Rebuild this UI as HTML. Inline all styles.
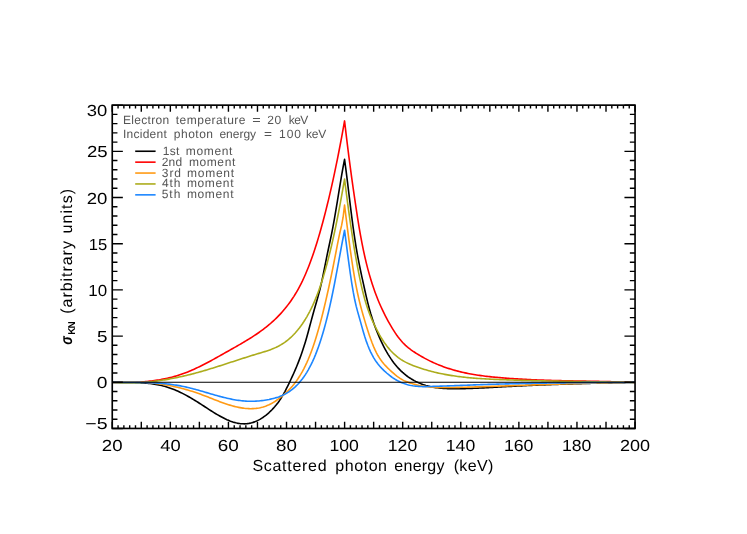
<!DOCTYPE html>
<html><head><meta charset="utf-8"><title>plot</title>
<style>html,body{margin:0;padding:0;background:#fff;width:747px;height:534px;overflow:hidden;font-family:"Liberation Sans",sans-serif}</style>
</head><body>
<svg width="747" height="534" viewBox="0 0 747 534" style="position:absolute;left:0;top:0;display:block;will-change:transform;text-rendering:geometricPrecision">
<rect width="747" height="534" fill="#fff"/>
<g fill="none" stroke-width="1.6" stroke-linejoin="round" stroke-linecap="butt">
<path d="M112.30,382.41 L113.75,382.44 L115.20,382.45 L116.65,382.46 L118.11,382.47 L119.56,382.47 L121.01,382.47 L122.46,382.48 L123.91,382.48 L125.36,382.48 L126.82,382.48 L128.27,382.49 L129.72,382.50 L131.17,382.52 L132.62,382.54 L134.07,382.56 L135.53,382.60 L136.98,382.64 L138.43,382.70 L139.88,382.76 L141.33,382.83 L142.78,382.92 L144.24,383.02 L145.69,383.13 L147.14,383.26 L148.59,383.41 L150.04,383.57 L151.49,383.75 L152.95,383.95 L154.40,384.17 L155.85,384.40 L157.30,384.66 L158.75,384.95 L160.20,385.25 L161.66,385.59 L163.11,385.94 L164.56,386.32 L166.01,386.73 L167.46,387.17 L168.91,387.64 L170.37,388.14 L171.82,388.66 L173.27,389.22 L174.72,389.81 L176.17,390.42 L177.62,391.06 L179.08,391.73 L180.53,392.42 L181.98,393.14 L183.43,393.88 L184.88,394.64 L186.33,395.42 L187.79,396.22 L189.24,397.04 L190.69,397.88 L192.14,398.73 L193.59,399.60 L195.04,400.49 L196.50,401.38 L197.95,402.29 L199.40,403.22 L200.85,404.15 L202.30,405.09 L203.75,406.03 L205.21,406.98 L206.66,407.93 L208.11,408.87 L209.56,409.81 L211.01,410.74 L212.46,411.66 L213.92,412.57 L215.37,413.46 L216.82,414.33 L218.27,415.18 L219.72,416.01 L221.17,416.81 L222.63,417.58 L224.08,418.31 L225.53,419.02 L226.98,419.69 L228.43,420.31 L229.88,420.90 L231.34,421.44 L232.79,421.93 L234.24,422.37 L235.69,422.76 L237.14,423.09 L238.59,423.37 L240.05,423.58 L241.50,423.73 L242.95,423.81 L244.40,423.83 L245.85,423.77 L247.30,423.64 L248.76,423.44 L250.21,423.16 L251.66,422.80 L253.11,422.37 L254.56,421.87 L256.01,421.29 L257.47,420.63 L258.92,419.89 L260.37,419.08 L261.82,418.19 L263.27,417.22 L264.72,416.16 L266.17,415.03 L267.63,413.82 L269.08,412.53 L270.53,411.16 L271.98,409.70 L273.43,408.16 L274.88,406.52 L276.34,404.78 L277.79,402.91 L279.24,400.91 L280.69,398.75 L282.14,396.44 L283.59,393.95 L285.05,391.28 L286.50,388.47 L287.95,385.55 L289.40,382.56 L290.85,379.52 L292.30,376.41 L293.76,373.22 L295.21,369.92 L296.66,366.50 L298.11,362.91 L299.56,359.15 L301.01,355.20 L302.47,351.01 L303.92,346.59 L305.37,341.89 L306.82,336.91 L308.27,331.69 L309.72,326.31 L311.18,320.88 L312.63,315.49 L314.08,310.24 L315.53,305.18 L316.98,300.20 L318.43,295.06 L319.89,289.53 L321.34,283.41 L322.79,276.67 L324.24,269.51 L325.69,262.19 L327.14,254.94 L328.60,247.99 L330.05,241.28 L331.50,234.41 L332.95,226.96 L334.40,218.89 L335.85,210.38 L337.31,201.58 L338.76,192.67 L340.21,183.83 L341.66,175.21 L343.11,166.99 L344.56,159.34 L344.56,159.34 L346.02,170.33 L347.47,181.94 L348.92,193.87 L350.37,205.79 L351.82,217.41 L353.27,228.39 L354.73,238.44 L356.18,247.52 L357.63,255.79 L359.08,263.40 L360.53,270.53 L361.98,277.32 L363.44,283.94 L364.89,290.51 L366.34,296.92 L367.79,302.93 L369.24,308.47 L370.69,313.58 L372.15,318.30 L373.60,322.66 L375.05,326.72 L376.50,330.50 L377.95,334.05 L379.40,337.41 L380.86,340.61 L382.31,343.65 L383.76,346.54 L385.21,349.28 L386.66,351.88 L388.11,354.34 L389.57,356.67 L391.02,358.87 L392.47,360.95 L393.92,362.91 L395.37,364.75 L396.82,366.49 L398.28,368.12 L399.73,369.66 L401.18,371.10 L402.63,372.45 L404.08,373.71 L405.53,374.90 L406.98,376.01 L408.44,377.05 L409.89,378.03 L411.34,378.94 L412.79,379.80 L414.24,380.61 L415.69,381.37 L417.15,382.08 L418.60,382.74 L420.05,383.36 L421.50,383.94 L422.95,384.47 L424.40,384.96 L425.86,385.42 L427.31,385.83 L428.76,386.21 L430.21,386.56 L431.66,386.87 L433.11,387.16 L434.57,387.41 L436.02,387.63 L437.47,387.83 L438.92,388.01 L440.37,388.16 L441.82,388.29 L443.28,388.40 L444.73,388.49 L446.18,388.56 L447.63,388.62 L449.08,388.67 L450.53,388.70 L451.99,388.72 L453.44,388.73 L454.89,388.74 L456.34,388.73 L457.79,388.73 L459.24,388.71 L460.70,388.70 L462.15,388.67 L463.60,388.64 L465.05,388.61 L466.50,388.57 L467.95,388.53 L469.41,388.48 L470.86,388.43 L472.31,388.38 L473.76,388.32 L475.21,388.26 L476.66,388.20 L478.12,388.13 L479.57,388.07 L481.02,388.00 L482.47,387.92 L483.92,387.85 L485.37,387.77 L486.83,387.69 L488.28,387.61 L489.73,387.53 L491.18,387.45 L492.63,387.37 L494.08,387.29 L495.54,387.21 L496.99,387.12 L498.44,387.04 L499.89,386.96 L501.34,386.88 L502.79,386.80 L504.25,386.72 L505.70,386.65 L507.15,386.57 L508.60,386.49 L510.05,386.42 L511.50,386.34 L512.96,386.27 L514.41,386.19 L515.86,386.12 L517.31,386.05 L518.76,385.98 L520.21,385.91 L521.67,385.84 L523.12,385.77 L524.57,385.70 L526.02,385.63 L527.47,385.57 L528.92,385.50 L530.38,385.44 L531.83,385.37 L533.28,385.31 L534.73,385.25 L536.18,385.18 L537.63,385.12 L539.09,385.06 L540.54,385.00 L541.99,384.94 L543.44,384.88 L544.89,384.83 L546.34,384.77 L547.79,384.71 L549.25,384.66 L550.70,384.60 L552.15,384.55 L553.60,384.49 L555.05,384.44 L556.50,384.39 L557.96,384.33 L559.41,384.28 L560.86,384.23 L562.31,384.18 L563.76,384.13 L565.21,384.08 L566.67,384.04 L568.12,383.99 L569.57,383.94 L571.02,383.90 L572.47,383.85 L573.92,383.81 L575.38,383.76 L576.83,383.72 L578.28,383.67 L579.73,383.63 L581.18,383.59 L582.63,383.55 L584.09,383.51 L585.54,383.47 L586.99,383.43 L588.44,383.39 L589.89,383.35 L591.34,383.31 L592.80,383.27 L594.25,383.24 L595.70,383.20 L597.15,383.17 L598.60,383.13 L600.05,383.10 L601.51,383.06 L602.96,383.03 L604.41,382.99 L605.86,382.96 L607.31,382.93 L608.76,382.90 L610.22,382.87 L611.67,382.84 L613.12,382.81 L614.57,382.78 L616.02,382.75 L617.47,382.72 L618.93,382.69 L620.38,382.66 L621.83,382.64 L623.28,382.61 L624.73,382.58 L626.18,382.56 L627.64,382.53 L629.09,382.51 L630.54,382.48 L631.99,382.46 L633.44,382.44 L634.89,382.42" stroke="#000000"/>
<path d="M112.30,382.41 L113.75,382.44 L115.20,382.46 L116.65,382.48 L118.11,382.49 L119.56,382.50 L121.01,382.50 L122.46,382.50 L123.91,382.50 L125.36,382.49 L126.82,382.47 L128.27,382.45 L129.72,382.42 L131.17,382.38 L132.62,382.34 L134.07,382.29 L135.53,382.23 L136.98,382.16 L138.43,382.08 L139.88,382.00 L141.33,381.90 L142.78,381.80 L144.24,381.68 L145.69,381.56 L147.14,381.43 L148.59,381.28 L150.04,381.12 L151.49,380.95 L152.95,380.77 L154.40,380.58 L155.85,380.37 L157.30,380.15 L158.75,379.92 L160.20,379.67 L161.66,379.41 L163.11,379.13 L164.56,378.84 L166.01,378.54 L167.46,378.22 L168.91,377.88 L170.37,377.53 L171.82,377.16 L173.27,376.77 L174.72,376.37 L176.17,375.94 L177.62,375.50 L179.08,375.05 L180.53,374.57 L181.98,374.07 L183.43,373.56 L184.88,373.03 L186.33,372.47 L187.79,371.90 L189.24,371.31 L190.69,370.70 L192.14,370.07 L193.59,369.42 L195.04,368.77 L196.50,368.09 L197.95,367.40 L199.40,366.70 L200.85,365.99 L202.30,365.26 L203.75,364.52 L205.21,363.77 L206.66,363.01 L208.11,362.24 L209.56,361.47 L211.01,360.68 L212.46,359.89 L213.92,359.09 L215.37,358.29 L216.82,357.48 L218.27,356.67 L219.72,355.85 L221.17,355.04 L222.63,354.22 L224.08,353.39 L225.53,352.57 L226.98,351.75 L228.43,350.93 L229.88,350.11 L231.34,349.29 L232.79,348.47 L234.24,347.65 L235.69,346.82 L237.14,346.00 L238.59,345.16 L240.05,344.33 L241.50,343.48 L242.95,342.63 L244.40,341.77 L245.85,340.90 L247.30,340.02 L248.76,339.13 L250.21,338.22 L251.66,337.31 L253.11,336.37 L254.56,335.42 L256.01,334.46 L257.47,333.47 L258.92,332.47 L260.37,331.45 L261.82,330.40 L263.27,329.33 L264.72,328.23 L266.17,327.09 L267.63,325.93 L269.08,324.73 L270.53,323.49 L271.98,322.22 L273.43,320.90 L274.88,319.53 L276.34,318.12 L277.79,316.66 L279.24,315.15 L280.69,313.59 L282.14,311.97 L283.59,310.29 L285.05,308.55 L286.50,306.74 L287.95,304.88 L289.40,302.94 L290.85,300.92 L292.30,298.81 L293.76,296.61 L295.21,294.30 L296.66,291.88 L298.11,289.33 L299.56,286.65 L301.01,283.83 L302.47,280.87 L303.92,277.75 L305.37,274.47 L306.82,271.04 L308.27,267.45 L309.72,263.70 L311.18,259.78 L312.63,255.69 L314.08,251.43 L315.53,247.00 L316.98,242.39 L318.43,237.61 L319.89,232.66 L321.34,227.54 L322.79,222.24 L324.24,216.77 L325.69,211.12 L327.14,205.31 L328.60,199.32 L330.05,193.16 L331.50,186.82 L332.95,180.30 L334.40,173.59 L335.85,166.69 L337.31,159.59 L338.76,152.28 L340.21,144.77 L341.66,137.04 L343.11,129.09 L344.56,120.92 L344.56,120.92 L346.02,133.43 L347.47,145.41 L348.92,156.90 L350.37,167.95 L351.82,178.60 L353.27,188.91 L354.73,198.92 L356.18,208.66 L357.63,218.07 L359.08,227.03 L360.53,235.42 L361.98,243.18 L363.44,250.36 L364.89,257.01 L366.34,263.16 L367.79,268.86 L369.24,274.16 L370.69,279.09 L372.15,283.72 L373.60,288.07 L375.05,292.18 L376.50,296.06 L377.95,299.74 L379.40,303.22 L380.86,306.53 L382.31,309.69 L383.76,312.70 L385.21,315.59 L386.66,318.37 L388.11,321.06 L389.57,323.66 L391.02,326.18 L392.47,328.61 L393.92,330.93 L395.37,333.15 L396.82,335.25 L398.28,337.24 L399.73,339.10 L401.18,340.83 L402.63,342.44 L404.08,343.93 L405.53,345.32 L406.98,346.61 L408.44,347.82 L409.89,348.96 L411.34,350.03 L412.79,351.05 L414.24,352.02 L415.69,352.97 L417.15,353.88 L418.60,354.78 L420.05,355.64 L421.50,356.49 L422.95,357.31 L424.40,358.11 L425.86,358.89 L427.31,359.65 L428.76,360.39 L430.21,361.10 L431.66,361.79 L433.11,362.47 L434.57,363.12 L436.02,363.75 L437.47,364.37 L438.92,364.96 L440.37,365.54 L441.82,366.10 L443.28,366.64 L444.73,367.16 L446.18,367.67 L447.63,368.16 L449.08,368.63 L450.53,369.09 L451.99,369.53 L453.44,369.95 L454.89,370.36 L456.34,370.76 L457.79,371.14 L459.24,371.51 L460.70,371.86 L462.15,372.21 L463.60,372.53 L465.05,372.85 L466.50,373.15 L467.95,373.45 L469.41,373.73 L470.86,374.00 L472.31,374.26 L473.76,374.51 L475.21,374.75 L476.66,374.98 L478.12,375.20 L479.57,375.41 L481.02,375.61 L482.47,375.81 L483.92,375.99 L485.37,376.17 L486.83,376.35 L488.28,376.51 L489.73,376.67 L491.18,376.83 L492.63,376.98 L494.08,377.12 L495.54,377.26 L496.99,377.39 L498.44,377.52 L499.89,377.65 L501.34,377.77 L502.79,377.89 L504.25,378.00 L505.70,378.12 L507.15,378.23 L508.60,378.33 L510.05,378.44 L511.50,378.54 L512.96,378.64 L514.41,378.73 L515.86,378.83 L517.31,378.92 L518.76,379.00 L520.21,379.09 L521.67,379.17 L523.12,379.25 L524.57,379.33 L526.02,379.41 L527.47,379.48 L528.92,379.55 L530.38,379.62 L531.83,379.69 L533.28,379.75 L534.73,379.81 L536.18,379.87 L537.63,379.93 L539.09,379.99 L540.54,380.05 L541.99,380.10 L543.44,380.15 L544.89,380.20 L546.34,380.25 L547.79,380.30 L549.25,380.34 L550.70,380.39 L552.15,380.43 L553.60,380.47 L555.05,380.51 L556.50,380.55 L557.96,380.59 L559.41,380.63 L560.86,380.66 L562.31,380.70 L563.76,380.73 L565.21,380.77 L566.67,380.80 L568.12,380.83 L569.57,380.86 L571.02,380.89 L572.47,380.92 L573.92,380.95 L575.38,380.98 L576.83,381.01 L578.28,381.04 L579.73,381.07 L581.18,381.09 L582.63,381.12 L584.09,381.15 L585.54,381.17 L586.99,381.20 L588.44,381.23 L589.89,381.25 L591.34,381.28 L592.80,381.31 L594.25,381.34 L595.70,381.36 L597.15,381.39 L598.60,381.42 L600.05,381.45 L601.51,381.48 L602.96,381.51 L604.41,381.54 L605.86,381.57 L607.31,381.60 L608.76,381.64 L610.22,381.67 L611.67,381.70 L613.12,381.74 L614.57,381.77 L616.02,381.81 L617.47,381.85 L618.93,381.89 L620.38,381.93 L621.83,381.97 L623.28,382.02 L624.73,382.06 L626.18,382.11 L627.64,382.15 L629.09,382.20 L630.54,382.25 L631.99,382.31 L633.44,382.36 L634.89,382.42" stroke="#ff0000"/>
<path d="M112.30,382.42 L113.75,382.32 L115.20,382.23 L116.65,382.15 L118.11,382.08 L119.56,382.01 L121.01,381.96 L122.46,381.91 L123.91,381.87 L125.36,381.85 L126.82,381.83 L128.27,381.82 L129.72,381.82 L131.17,381.82 L132.62,381.84 L134.07,381.87 L135.53,381.90 L136.98,381.95 L138.43,382.01 L139.88,382.07 L141.33,382.14 L142.78,382.23 L144.24,382.32 L145.69,382.43 L147.14,382.54 L148.59,382.67 L150.04,382.80 L151.49,382.94 L152.95,383.10 L154.40,383.26 L155.85,383.44 L157.30,383.62 L158.75,383.82 L160.20,384.02 L161.66,384.24 L163.11,384.47 L164.56,384.71 L166.01,384.96 L167.46,385.22 L168.91,385.49 L170.37,385.77 L171.82,386.06 L173.27,386.36 L174.72,386.68 L176.17,387.01 L177.62,387.34 L179.08,387.69 L180.53,388.05 L181.98,388.43 L183.43,388.81 L184.88,389.20 L186.33,389.61 L187.79,390.03 L189.24,390.46 L190.69,390.90 L192.14,391.36 L193.59,391.83 L195.04,392.30 L196.50,392.80 L197.95,393.30 L199.40,393.81 L200.85,394.34 L202.30,394.88 L203.75,395.43 L205.21,395.98 L206.66,396.55 L208.11,397.11 L209.56,397.68 L211.01,398.25 L212.46,398.82 L213.92,399.39 L215.37,399.96 L216.82,400.52 L218.27,401.08 L219.72,401.63 L221.17,402.17 L222.63,402.70 L224.08,403.21 L225.53,403.72 L226.98,404.20 L228.43,404.68 L229.88,405.13 L231.34,405.56 L232.79,405.97 L234.24,406.36 L235.69,406.72 L237.14,407.06 L238.59,407.37 L240.05,407.65 L241.50,407.90 L242.95,408.12 L244.40,408.31 L245.85,408.45 L247.30,408.57 L248.76,408.64 L250.21,408.68 L251.66,408.67 L253.11,408.62 L254.56,408.52 L256.01,408.38 L257.47,408.19 L258.92,407.95 L260.37,407.66 L261.82,407.31 L263.27,406.91 L264.72,406.45 L266.17,405.93 L267.63,405.35 L269.08,404.71 L270.53,404.00 L271.98,403.22 L273.43,402.38 L274.88,401.47 L276.34,400.50 L277.79,399.47 L279.24,398.38 L280.69,397.24 L282.14,396.06 L283.59,394.83 L285.05,393.56 L286.50,392.24 L287.95,390.85 L289.40,389.39 L290.85,387.85 L292.30,386.21 L293.76,384.47 L295.21,382.62 L296.66,380.65 L298.11,378.54 L299.56,376.29 L301.01,373.89 L302.47,371.33 L303.92,368.59 L305.37,365.67 L306.82,362.56 L308.27,359.25 L309.72,355.72 L311.18,351.97 L312.63,347.99 L314.08,343.77 L315.53,339.30 L316.98,334.57 L318.43,329.58 L319.89,324.36 L321.34,318.89 L322.79,313.20 L324.24,307.28 L325.69,301.15 L327.14,294.80 L328.60,288.26 L330.05,281.52 L331.50,274.59 L332.95,267.49 L334.40,260.21 L335.85,252.76 L337.31,245.19 L338.76,237.84 L340.21,231.26 L341.66,225.14 L343.11,217.23 L344.56,205.06 L344.56,205.06 L346.02,217.06 L347.47,228.67 L348.92,239.82 L350.37,250.45 L351.82,260.49 L353.27,269.87 L354.73,278.54 L356.18,286.41 L357.63,293.48 L359.08,299.87 L360.53,305.70 L361.98,311.09 L363.44,316.20 L364.89,321.12 L366.34,325.90 L367.79,330.51 L369.24,334.92 L370.69,339.09 L372.15,343.00 L373.60,346.61 L375.05,349.89 L376.50,352.85 L377.95,355.52 L379.40,357.91 L380.86,360.06 L382.31,362.01 L383.76,363.78 L385.21,365.41 L386.66,366.91 L388.11,368.34 L389.57,369.71 L391.02,371.05 L392.47,372.36 L393.92,373.63 L395.37,374.86 L396.82,376.03 L398.28,377.12 L399.73,378.14 L401.18,379.07 L402.63,379.89 L404.08,380.62 L405.53,381.26 L406.98,381.83 L408.44,382.37 L409.89,382.87 L411.34,383.34 L412.79,383.78 L414.24,384.18 L415.69,384.56 L417.15,384.91 L418.60,385.24 L420.05,385.53 L421.50,385.81 L422.95,386.05 L424.40,386.28 L425.86,386.48 L427.31,386.67 L428.76,386.83 L430.21,386.97 L431.66,387.10 L433.11,387.20 L434.57,387.30 L436.02,387.37 L437.47,387.43 L438.92,387.48 L440.37,387.52 L441.82,387.55 L443.28,387.56 L444.73,387.57 L446.18,387.57 L447.63,387.56 L449.08,387.55 L450.53,387.53 L451.99,387.51 L453.44,387.48 L454.89,387.45 L456.34,387.42 L457.79,387.39 L459.24,387.36 L460.70,387.32 L462.15,387.29 L463.60,387.25 L465.05,387.22 L466.50,387.18 L467.95,387.14 L469.41,387.10 L470.86,387.06 L472.31,387.01 L473.76,386.97 L475.21,386.92 L476.66,386.88 L478.12,386.83 L479.57,386.79 L481.02,386.74 L482.47,386.69 L483.92,386.64 L485.37,386.59 L486.83,386.54 L488.28,386.49 L489.73,386.44 L491.18,386.39 L492.63,386.34 L494.08,386.29 L495.54,386.24 L496.99,386.19 L498.44,386.14 L499.89,386.09 L501.34,386.03 L502.79,385.98 L504.25,385.93 L505.70,385.88 L507.15,385.83 L508.60,385.78 L510.05,385.73 L511.50,385.68 L512.96,385.62 L514.41,385.57 L515.86,385.52 L517.31,385.47 L518.76,385.42 L520.21,385.37 L521.67,385.32 L523.12,385.27 L524.57,385.22 L526.02,385.17 L527.47,385.12 L528.92,385.07 L530.38,385.02 L531.83,384.97 L533.28,384.92 L534.73,384.87 L536.18,384.82 L537.63,384.78 L539.09,384.73 L540.54,384.68 L541.99,384.63 L543.44,384.58 L544.89,384.54 L546.34,384.49 L547.79,384.44 L549.25,384.40 L550.70,384.35 L552.15,384.30 L553.60,384.26 L555.05,384.21 L556.50,384.17 L557.96,384.12 L559.41,384.08 L560.86,384.03 L562.31,383.99 L563.76,383.95 L565.21,383.90 L566.67,383.86 L568.12,383.82 L569.57,383.78 L571.02,383.74 L572.47,383.70 L573.92,383.65 L575.38,383.61 L576.83,383.57 L578.28,383.53 L579.73,383.50 L581.18,383.46 L582.63,383.42 L584.09,383.38 L585.54,383.34 L586.99,383.31 L588.44,383.27 L589.89,383.24 L591.34,383.20 L592.80,383.17 L594.25,383.13 L595.70,383.10 L597.15,383.07 L598.60,383.03 L600.05,383.00 L601.51,382.97 L602.96,382.94 L604.41,382.91 L605.86,382.88 L607.31,382.85 L608.76,382.82 L610.22,382.79 L611.67,382.76 L613.12,382.74 L614.57,382.71 L616.02,382.69 L617.47,382.66 L618.93,382.64 L620.38,382.61 L621.83,382.59 L623.28,382.57 L624.73,382.55 L626.18,382.53 L627.64,382.51 L629.09,382.49 L630.54,382.47 L631.99,382.45 L633.44,382.43 L634.89,382.42" stroke="#ff9a14"/>
<path d="M112.30,382.41 L113.75,382.52 L115.20,382.62 L116.65,382.70 L118.11,382.78 L119.56,382.84 L121.01,382.89 L122.46,382.93 L123.91,382.96 L125.36,382.98 L126.82,382.99 L128.27,382.99 L129.72,382.98 L131.17,382.96 L132.62,382.92 L134.07,382.88 L135.53,382.83 L136.98,382.77 L138.43,382.70 L139.88,382.62 L141.33,382.53 L142.78,382.43 L144.24,382.32 L145.69,382.20 L147.14,382.07 L148.59,381.93 L150.04,381.79 L151.49,381.63 L152.95,381.47 L154.40,381.29 L155.85,381.11 L157.30,380.92 L158.75,380.72 L160.20,380.52 L161.66,380.30 L163.11,380.08 L164.56,379.84 L166.01,379.60 L167.46,379.36 L168.91,379.10 L170.37,378.83 L171.82,378.56 L173.27,378.28 L174.72,378.00 L176.17,377.70 L177.62,377.40 L179.08,377.09 L180.53,376.77 L181.98,376.45 L183.43,376.12 L184.88,375.78 L186.33,375.43 L187.79,375.08 L189.24,374.72 L190.69,374.36 L192.14,373.99 L193.59,373.61 L195.04,373.22 L196.50,372.83 L197.95,372.44 L199.40,372.03 L200.85,371.62 L202.30,371.21 L203.75,370.79 L205.21,370.36 L206.66,369.93 L208.11,369.50 L209.56,369.06 L211.01,368.61 L212.46,368.16 L213.92,367.71 L215.37,367.26 L216.82,366.80 L218.27,366.34 L219.72,365.88 L221.17,365.41 L222.63,364.94 L224.08,364.47 L225.53,364.00 L226.98,363.53 L228.43,363.06 L229.88,362.58 L231.34,362.11 L232.79,361.64 L234.24,361.16 L235.69,360.69 L237.14,360.22 L238.59,359.74 L240.05,359.27 L241.50,358.80 L242.95,358.34 L244.40,357.87 L245.85,357.41 L247.30,356.95 L248.76,356.49 L250.21,356.03 L251.66,355.58 L253.11,355.14 L254.56,354.69 L256.01,354.25 L257.47,353.82 L258.92,353.39 L260.37,352.96 L261.82,352.52 L263.27,352.08 L264.72,351.63 L266.17,351.17 L267.63,350.68 L269.08,350.18 L270.53,349.65 L271.98,349.09 L273.43,348.49 L274.88,347.86 L276.34,347.19 L277.79,346.47 L279.24,345.70 L280.69,344.88 L282.14,344.01 L283.59,343.07 L285.05,342.07 L286.50,341.01 L287.95,339.87 L289.40,338.65 L290.85,337.36 L292.30,335.98 L293.76,334.52 L295.21,332.96 L296.66,331.31 L298.11,329.56 L299.56,327.71 L301.01,325.76 L302.47,323.69 L303.92,321.51 L305.37,319.21 L306.82,316.79 L308.27,314.22 L309.72,311.51 L311.18,308.63 L312.63,305.59 L314.08,302.35 L315.53,298.93 L316.98,295.29 L318.43,291.44 L319.89,287.36 L321.34,283.04 L322.79,278.47 L324.24,273.64 L325.69,268.57 L327.14,263.24 L328.60,257.66 L330.05,251.81 L331.50,245.72 L332.95,239.36 L334.40,232.74 L335.85,225.86 L337.31,218.72 L338.76,211.31 L340.21,203.64 L341.66,195.70 L343.11,187.49 L344.56,179.02 L344.56,179.02 L346.02,190.63 L347.47,201.82 L348.92,212.57 L350.37,222.87 L351.82,232.72 L353.27,242.11 L354.73,251.03 L356.18,259.47 L357.63,267.43 L359.08,274.89 L360.53,281.86 L361.98,288.32 L363.44,294.27 L364.89,299.69 L366.34,304.60 L367.79,309.02 L369.24,313.03 L370.69,316.69 L372.15,320.08 L373.60,323.25 L375.05,326.27 L376.50,329.18 L377.95,331.97 L379.40,334.63 L380.86,337.14 L382.31,339.50 L383.76,341.73 L385.21,343.83 L386.66,345.79 L388.11,347.64 L389.57,349.36 L391.02,350.98 L392.47,352.49 L393.92,353.90 L395.37,355.21 L396.82,356.43 L398.28,357.56 L399.73,358.62 L401.18,359.60 L402.63,360.52 L404.08,361.36 L405.53,362.16 L406.98,362.89 L408.44,363.59 L409.89,364.23 L411.34,364.85 L412.79,365.43 L414.24,365.98 L415.69,366.51 L417.15,367.03 L418.60,367.54 L420.05,368.02 L421.50,368.50 L422.95,368.96 L424.40,369.41 L425.86,369.84 L427.31,370.26 L428.76,370.67 L430.21,371.06 L431.66,371.44 L433.11,371.81 L434.57,372.17 L436.02,372.51 L437.47,372.85 L438.92,373.17 L440.37,373.48 L441.82,373.78 L443.28,374.07 L444.73,374.35 L446.18,374.62 L447.63,374.88 L449.08,375.13 L450.53,375.37 L451.99,375.60 L453.44,375.82 L454.89,376.04 L456.34,376.24 L457.79,376.44 L459.24,376.62 L460.70,376.80 L462.15,376.98 L463.60,377.14 L465.05,377.30 L466.50,377.45 L467.95,377.60 L469.41,377.74 L470.86,377.87 L472.31,377.99 L473.76,378.11 L475.21,378.23 L476.66,378.34 L478.12,378.44 L479.57,378.54 L481.02,378.64 L482.47,378.73 L483.92,378.82 L485.37,378.90 L486.83,378.98 L488.28,379.06 L489.73,379.13 L491.18,379.20 L492.63,379.27 L494.08,379.34 L495.54,379.40 L496.99,379.46 L498.44,379.52 L499.89,379.58 L501.34,379.64 L502.79,379.69 L504.25,379.75 L505.70,379.80 L507.15,379.85 L508.60,379.91 L510.05,379.96 L511.50,380.01 L512.96,380.05 L514.41,380.10 L515.86,380.15 L517.31,380.19 L518.76,380.24 L520.21,380.28 L521.67,380.33 L523.12,380.37 L524.57,380.41 L526.02,380.45 L527.47,380.49 L528.92,380.53 L530.38,380.56 L531.83,380.60 L533.28,380.64 L534.73,380.67 L536.18,380.71 L537.63,380.74 L539.09,380.78 L540.54,380.81 L541.99,380.84 L543.44,380.87 L544.89,380.90 L546.34,380.94 L547.79,380.96 L549.25,380.99 L550.70,381.02 L552.15,381.05 L553.60,381.08 L555.05,381.11 L556.50,381.13 L557.96,381.16 L559.41,381.19 L560.86,381.21 L562.31,381.24 L563.76,381.26 L565.21,381.29 L566.67,381.31 L568.12,381.33 L569.57,381.36 L571.02,381.38 L572.47,381.40 L573.92,381.43 L575.38,381.45 L576.83,381.47 L578.28,381.49 L579.73,381.52 L581.18,381.54 L582.63,381.56 L584.09,381.58 L585.54,381.60 L586.99,381.63 L588.44,381.65 L589.89,381.67 L591.34,381.69 L592.80,381.71 L594.25,381.73 L595.70,381.75 L597.15,381.78 L598.60,381.80 L600.05,381.82 L601.51,381.84 L602.96,381.86 L604.41,381.88 L605.86,381.91 L607.31,381.93 L608.76,381.95 L610.22,381.97 L611.67,382.00 L613.12,382.02 L614.57,382.04 L616.02,382.07 L617.47,382.09 L618.93,382.12 L620.38,382.14 L621.83,382.17 L623.28,382.19 L624.73,382.22 L626.18,382.25 L627.64,382.27 L629.09,382.30 L630.54,382.33 L631.99,382.36 L633.44,382.39 L634.89,382.42" stroke="#acac1c"/>
<path d="M112.30,382.42 L113.75,382.41 L115.20,382.41 L116.65,382.41 L118.11,382.40 L119.56,382.40 L121.01,382.39 L122.46,382.38 L123.91,382.38 L125.36,382.37 L126.82,382.37 L128.27,382.37 L129.72,382.36 L131.17,382.36 L132.62,382.37 L134.07,382.37 L135.53,382.38 L136.98,382.39 L138.43,382.41 L139.88,382.42 L141.33,382.45 L142.78,382.48 L144.24,382.51 L145.69,382.55 L147.14,382.59 L148.59,382.64 L150.04,382.70 L151.49,382.76 L152.95,382.83 L154.40,382.90 L155.85,382.99 L157.30,383.08 L158.75,383.18 L160.20,383.29 L161.66,383.41 L163.11,383.54 L164.56,383.67 L166.01,383.82 L167.46,383.98 L168.91,384.14 L170.37,384.32 L171.82,384.51 L173.27,384.72 L174.72,384.93 L176.17,385.16 L177.62,385.39 L179.08,385.65 L180.53,385.91 L181.98,386.19 L183.43,386.48 L184.88,386.79 L186.33,387.11 L187.79,387.45 L189.24,387.80 L190.69,388.16 L192.14,388.53 L193.59,388.91 L195.04,389.30 L196.50,389.69 L197.95,390.10 L199.40,390.51 L200.85,390.92 L202.30,391.34 L203.75,391.77 L205.21,392.19 L206.66,392.62 L208.11,393.05 L209.56,393.47 L211.01,393.90 L212.46,394.32 L213.92,394.74 L215.37,395.15 L216.82,395.56 L218.27,395.96 L219.72,396.36 L221.17,396.74 L222.63,397.12 L224.08,397.49 L225.53,397.84 L226.98,398.19 L228.43,398.52 L229.88,398.84 L231.34,399.14 L232.79,399.42 L234.24,399.69 L235.69,399.94 L237.14,400.17 L238.59,400.39 L240.05,400.58 L241.50,400.75 L242.95,400.90 L244.40,401.02 L245.85,401.12 L247.30,401.20 L248.76,401.25 L250.21,401.28 L251.66,401.28 L253.11,401.26 L254.56,401.22 L256.01,401.15 L257.47,401.06 L258.92,400.95 L260.37,400.81 L261.82,400.64 L263.27,400.45 L264.72,400.24 L266.17,400.00 L267.63,399.74 L269.08,399.46 L270.53,399.14 L271.98,398.81 L273.43,398.45 L274.88,398.06 L276.34,397.63 L277.79,397.17 L279.24,396.66 L280.69,396.10 L282.14,395.49 L283.59,394.83 L285.05,394.10 L286.50,393.30 L287.95,392.43 L289.40,391.49 L290.85,390.46 L292.30,389.35 L293.76,388.15 L295.21,386.85 L296.66,385.45 L298.11,383.95 L299.56,382.34 L301.01,380.61 L302.47,378.76 L303.92,376.77 L305.37,374.63 L306.82,372.33 L308.27,369.86 L309.72,367.22 L311.18,364.38 L312.63,361.34 L314.08,358.08 L315.53,354.61 L316.98,350.90 L318.43,346.94 L319.89,342.73 L321.34,338.25 L322.79,333.49 L324.24,328.45 L325.69,323.10 L327.14,317.45 L328.60,311.47 L330.05,305.17 L331.50,298.52 L332.95,291.52 L334.40,284.22 L335.85,276.67 L337.31,268.95 L338.76,261.13 L340.21,253.27 L341.66,245.45 L343.11,237.73 L344.56,230.19 L344.56,230.19 L346.02,241.62 L347.47,252.85 L348.92,263.71 L350.37,274.00 L351.82,283.57 L353.27,292.22 L354.73,299.79 L356.18,306.15 L357.63,311.63 L359.08,316.72 L360.53,321.88 L361.98,327.09 L363.44,332.20 L364.89,337.02 L366.34,341.39 L367.79,345.32 L369.24,348.86 L370.69,352.06 L372.15,354.96 L373.60,357.57 L375.05,359.94 L376.50,362.08 L377.95,364.02 L379.40,365.79 L380.86,367.42 L382.31,368.93 L383.76,370.35 L385.21,371.71 L386.66,373.00 L388.11,374.23 L389.57,375.40 L391.02,376.51 L392.47,377.55 L393.92,378.52 L395.37,379.44 L396.82,380.29 L398.28,381.08 L399.73,381.80 L401.18,382.47 L402.63,383.07 L404.08,383.61 L405.53,384.09 L406.98,384.53 L408.44,384.91 L409.89,385.24 L411.34,385.53 L412.79,385.78 L414.24,385.99 L415.69,386.16 L417.15,386.30 L418.60,386.41 L420.05,386.49 L421.50,386.55 L422.95,386.58 L424.40,386.59 L425.86,386.59 L427.31,386.57 L428.76,386.54 L430.21,386.50 L431.66,386.46 L433.11,386.41 L434.57,386.36 L436.02,386.31 L437.47,386.26 L438.92,386.21 L440.37,386.16 L441.82,386.11 L443.28,386.06 L444.73,386.01 L446.18,385.95 L447.63,385.90 L449.08,385.85 L450.53,385.79 L451.99,385.74 L453.44,385.68 L454.89,385.63 L456.34,385.57 L457.79,385.52 L459.24,385.46 L460.70,385.41 L462.15,385.35 L463.60,385.30 L465.05,385.24 L466.50,385.19 L467.95,385.13 L469.41,385.08 L470.86,385.02 L472.31,384.97 L473.76,384.92 L475.21,384.86 L476.66,384.81 L478.12,384.76 L479.57,384.71 L481.02,384.66 L482.47,384.61 L483.92,384.56 L485.37,384.51 L486.83,384.46 L488.28,384.41 L489.73,384.37 L491.18,384.32 L492.63,384.28 L494.08,384.23 L495.54,384.19 L496.99,384.15 L498.44,384.11 L499.89,384.06 L501.34,384.02 L502.79,383.98 L504.25,383.95 L505.70,383.91 L507.15,383.87 L508.60,383.83 L510.05,383.80 L511.50,383.76 L512.96,383.72 L514.41,383.69 L515.86,383.66 L517.31,383.62 L518.76,383.59 L520.21,383.56 L521.67,383.53 L523.12,383.50 L524.57,383.47 L526.02,383.44 L527.47,383.41 L528.92,383.38 L530.38,383.35 L531.83,383.32 L533.28,383.30 L534.73,383.27 L536.18,383.24 L537.63,383.22 L539.09,383.19 L540.54,383.17 L541.99,383.15 L543.44,383.12 L544.89,383.10 L546.34,383.08 L547.79,383.06 L549.25,383.04 L550.70,383.01 L552.15,382.99 L553.60,382.97 L555.05,382.96 L556.50,382.94 L557.96,382.92 L559.41,382.90 L560.86,382.88 L562.31,382.87 L563.76,382.85 L565.21,382.83 L566.67,382.82 L568.12,382.80 L569.57,382.79 L571.02,382.77 L572.47,382.76 L573.92,382.74 L575.38,382.73 L576.83,382.72 L578.28,382.70 L579.73,382.69 L581.18,382.68 L582.63,382.67 L584.09,382.66 L585.54,382.65 L586.99,382.63 L588.44,382.62 L589.89,382.61 L591.34,382.60 L592.80,382.59 L594.25,382.59 L595.70,382.58 L597.15,382.57 L598.60,382.56 L600.05,382.55 L601.51,382.54 L602.96,382.53 L604.41,382.53 L605.86,382.52 L607.31,382.51 L608.76,382.51 L610.22,382.50 L611.67,382.49 L613.12,382.49 L614.57,382.48 L616.02,382.48 L617.47,382.47 L618.93,382.46 L620.38,382.46 L621.83,382.45 L623.28,382.45 L624.73,382.44 L626.18,382.44 L627.64,382.44 L629.09,382.43 L630.54,382.43 L631.99,382.42 L633.44,382.42 L634.89,382.42" stroke="#1c86ff"/>
</g>
<line x1="112.25" y1="382.26" x2="635.05" y2="382.26" stroke="#000" stroke-width="1"/>
<path d="M112.25,428.45v-6.60M112.25,105.15v6.60M118.06,428.45v-3.30M118.06,105.15v3.30M123.87,428.45v-3.30M123.87,105.15v3.30M129.68,428.45v-3.30M129.68,105.15v3.30M135.49,428.45v-3.30M135.49,105.15v3.30M141.29,428.45v-6.60M141.29,105.15v6.60M147.10,428.45v-3.30M147.10,105.15v3.30M152.91,428.45v-3.30M152.91,105.15v3.30M158.72,428.45v-3.30M158.72,105.15v3.30M164.53,428.45v-3.30M164.53,105.15v3.30M170.34,428.45v-6.60M170.34,105.15v6.60M176.15,428.45v-3.30M176.15,105.15v3.30M181.96,428.45v-3.30M181.96,105.15v3.30M187.77,428.45v-3.30M187.77,105.15v3.30M193.57,428.45v-3.30M193.57,105.15v3.30M199.38,428.45v-6.60M199.38,105.15v6.60M205.19,428.45v-3.30M205.19,105.15v3.30M211.00,428.45v-3.30M211.00,105.15v3.30M216.81,428.45v-3.30M216.81,105.15v3.30M222.62,428.45v-3.30M222.62,105.15v3.30M228.43,428.45v-6.60M228.43,105.15v6.60M234.24,428.45v-3.30M234.24,105.15v3.30M240.05,428.45v-3.30M240.05,105.15v3.30M245.85,428.45v-3.30M245.85,105.15v3.30M251.66,428.45v-3.30M251.66,105.15v3.30M257.47,428.45v-6.60M257.47,105.15v6.60M263.28,428.45v-3.30M263.28,105.15v3.30M269.09,428.45v-3.30M269.09,105.15v3.30M274.90,428.45v-3.30M274.90,105.15v3.30M280.71,428.45v-3.30M280.71,105.15v3.30M286.52,428.45v-6.60M286.52,105.15v6.60M292.33,428.45v-3.30M292.33,105.15v3.30M298.13,428.45v-3.30M298.13,105.15v3.30M303.94,428.45v-3.30M303.94,105.15v3.30M309.75,428.45v-3.30M309.75,105.15v3.30M315.56,428.45v-6.60M315.56,105.15v6.60M321.37,428.45v-3.30M321.37,105.15v3.30M327.18,428.45v-3.30M327.18,105.15v3.30M332.99,428.45v-3.30M332.99,105.15v3.30M338.80,428.45v-3.30M338.80,105.15v3.30M344.61,428.45v-6.60M344.61,105.15v6.60M350.41,428.45v-3.30M350.41,105.15v3.30M356.22,428.45v-3.30M356.22,105.15v3.30M362.03,428.45v-3.30M362.03,105.15v3.30M367.84,428.45v-3.30M367.84,105.15v3.30M373.65,428.45v-6.60M373.65,105.15v6.60M379.46,428.45v-3.30M379.46,105.15v3.30M385.27,428.45v-3.30M385.27,105.15v3.30M391.08,428.45v-3.30M391.08,105.15v3.30M396.89,428.45v-3.30M396.89,105.15v3.30M402.69,428.45v-6.60M402.69,105.15v6.60M408.50,428.45v-3.30M408.50,105.15v3.30M414.31,428.45v-3.30M414.31,105.15v3.30M420.12,428.45v-3.30M420.12,105.15v3.30M425.93,428.45v-3.30M425.93,105.15v3.30M431.74,428.45v-6.60M431.74,105.15v6.60M437.55,428.45v-3.30M437.55,105.15v3.30M443.36,428.45v-3.30M443.36,105.15v3.30M449.17,428.45v-3.30M449.17,105.15v3.30M454.97,428.45v-3.30M454.97,105.15v3.30M460.78,428.45v-6.60M460.78,105.15v6.60M466.59,428.45v-3.30M466.59,105.15v3.30M472.40,428.45v-3.30M472.40,105.15v3.30M478.21,428.45v-3.30M478.21,105.15v3.30M484.02,428.45v-3.30M484.02,105.15v3.30M489.83,428.45v-6.60M489.83,105.15v6.60M495.64,428.45v-3.30M495.64,105.15v3.30M501.45,428.45v-3.30M501.45,105.15v3.30M507.25,428.45v-3.30M507.25,105.15v3.30M513.06,428.45v-3.30M513.06,105.15v3.30M518.87,428.45v-6.60M518.87,105.15v6.60M524.68,428.45v-3.30M524.68,105.15v3.30M530.49,428.45v-3.30M530.49,105.15v3.30M536.30,428.45v-3.30M536.30,105.15v3.30M542.11,428.45v-3.30M542.11,105.15v3.30M547.92,428.45v-6.60M547.92,105.15v6.60M553.73,428.45v-3.30M553.73,105.15v3.30M559.53,428.45v-3.30M559.53,105.15v3.30M565.34,428.45v-3.30M565.34,105.15v3.30M571.15,428.45v-3.30M571.15,105.15v3.30M576.96,428.45v-6.60M576.96,105.15v6.60M582.77,428.45v-3.30M582.77,105.15v3.30M588.58,428.45v-3.30M588.58,105.15v3.30M594.39,428.45v-3.30M594.39,105.15v3.30M600.20,428.45v-3.30M600.20,105.15v3.30M606.01,428.45v-6.60M606.01,105.15v6.60M611.81,428.45v-3.30M611.81,105.15v3.30M617.62,428.45v-3.30M617.62,105.15v3.30M623.43,428.45v-3.30M623.43,105.15v3.30M629.24,428.45v-3.30M629.24,105.15v3.30M635.05,428.45v-6.60M635.05,105.15v6.60M112.25,428.45h10.60M635.05,428.45h-10.60M112.25,419.21h5.20M635.05,419.21h-5.20M112.25,409.98h5.20M635.05,409.98h-5.20M112.25,400.74h5.20M635.05,400.74h-5.20M112.25,391.50h5.20M635.05,391.50h-5.20M112.25,382.26h10.60M635.05,382.26h-10.60M112.25,373.03h5.20M635.05,373.03h-5.20M112.25,363.79h5.20M635.05,363.79h-5.20M112.25,354.55h5.20M635.05,354.55h-5.20M112.25,345.32h5.20M635.05,345.32h-5.20M112.25,336.08h10.60M635.05,336.08h-10.60M112.25,326.84h5.20M635.05,326.84h-5.20M112.25,317.60h5.20M635.05,317.60h-5.20M112.25,308.37h5.20M635.05,308.37h-5.20M112.25,299.13h5.20M635.05,299.13h-5.20M112.25,289.89h10.60M635.05,289.89h-10.60M112.25,280.66h5.20M635.05,280.66h-5.20M112.25,271.42h5.20M635.05,271.42h-5.20M112.25,262.18h5.20M635.05,262.18h-5.20M112.25,252.94h5.20M635.05,252.94h-5.20M112.25,243.71h10.60M635.05,243.71h-10.60M112.25,234.47h5.20M635.05,234.47h-5.20M112.25,225.23h5.20M635.05,225.23h-5.20M112.25,216.00h5.20M635.05,216.00h-5.20M112.25,206.76h5.20M635.05,206.76h-5.20M112.25,197.52h10.60M635.05,197.52h-10.60M112.25,188.28h5.20M635.05,188.28h-5.20M112.25,179.05h5.20M635.05,179.05h-5.20M112.25,169.81h5.20M635.05,169.81h-5.20M112.25,160.57h5.20M635.05,160.57h-5.20M112.25,151.34h10.60M635.05,151.34h-10.60M112.25,142.10h5.20M635.05,142.10h-5.20M112.25,132.86h5.20M635.05,132.86h-5.20M112.25,123.62h5.20M635.05,123.62h-5.20M112.25,114.39h5.20M635.05,114.39h-5.20M112.25,105.15h10.60M635.05,105.15h-10.60" stroke="#000" stroke-width="1.4" fill="none"/>
<rect x="112.25" y="105.15" width="522.80" height="323.30" fill="none" stroke="#000" stroke-width="1.65"/>
<g font-family="'Liberation Sans', sans-serif" fill="#000">
<text x="101.79" y="451.10" font-size="16" textLength="20.70" lengthAdjust="spacingAndGlyphs">20</text>
<text x="160.39" y="451.10" font-size="16" textLength="20.38" lengthAdjust="spacingAndGlyphs">40</text>
<text x="217.87" y="451.10" font-size="16" textLength="21.01" lengthAdjust="spacingAndGlyphs">60</text>
<text x="275.99" y="451.10" font-size="16" textLength="20.84" lengthAdjust="spacingAndGlyphs">80</text>
<text x="329.49" y="451.10" font-size="16" textLength="29.40" lengthAdjust="spacingAndGlyphs">100</text>
<text x="387.87" y="451.10" font-size="16" textLength="29.30" lengthAdjust="spacingAndGlyphs">120</text>
<text x="445.84" y="451.10" font-size="16" textLength="29.39" lengthAdjust="spacingAndGlyphs">140</text>
<text x="503.95" y="451.10" font-size="16" textLength="29.52" lengthAdjust="spacingAndGlyphs">160</text>
<text x="561.93" y="451.10" font-size="16" textLength="29.48" lengthAdjust="spacingAndGlyphs">180</text>
<text x="619.91" y="451.10" font-size="16" textLength="30.06" lengthAdjust="spacingAndGlyphs">200</text>
<text x="96.75" y="388.44" font-size="16" textLength="10.68" lengthAdjust="spacingAndGlyphs">0</text>
<text x="97.07" y="342.24" font-size="16" textLength="10.48" lengthAdjust="spacingAndGlyphs">5</text>
<text x="88.37" y="296.03" font-size="16" textLength="18.81" lengthAdjust="spacingAndGlyphs">10</text>
<text x="88.88" y="249.82" font-size="16" textLength="18.42" lengthAdjust="spacingAndGlyphs">15</text>
<text x="86.65" y="203.61" font-size="16" textLength="20.64" lengthAdjust="spacingAndGlyphs">20</text>
<text x="86.91" y="157.41" font-size="16" textLength="20.67" lengthAdjust="spacingAndGlyphs">25</text>
<text x="86.83" y="116.00" font-size="16" textLength="20.49" lengthAdjust="spacingAndGlyphs">30</text>
<text x="85.32" y="429.20" font-size="16" textLength="22.30" lengthAdjust="spacingAndGlyphs">−5</text>
</g>
<g font-family="'Liberation Sans', sans-serif" fill="#000">
<text x="252.40" y="471.30" font-size="16" textLength="74.25" lengthAdjust="spacing">Scattered</text>
<text x="335.27" y="471.30" font-size="16" textLength="51.73" lengthAdjust="spacing">photon</text>
<text x="394.33" y="471.30" font-size="16" textLength="50.17" lengthAdjust="spacing">energy</text>
<text x="453.69" y="471.30" font-size="16" textLength="39.54" lengthAdjust="spacing">(keV)</text>
<text transform="translate(71.50,344.80) rotate(-90)" font-size="16.5" font-weight="bold" font-style="italic" textLength="8.66" lengthAdjust="spacingAndGlyphs">σ</text>
<text transform="translate(75.00,334.75) rotate(-90)" font-size="10" font-weight="bold" textLength="13.50" lengthAdjust="spacing">KN</text>
<text transform="translate(71.50,313.70) rotate(-90)" font-size="16" textLength="72.58" lengthAdjust="spacing">(arbitrary</text>
<text transform="translate(71.50,233.59) rotate(-90)" font-size="16" textLength="44.69" lengthAdjust="spacing">units)</text>
</g>
<g font-family="'Liberation Sans', sans-serif" fill="#555">
<text x="122.89" y="124.00" font-size="12.0" textLength="46.26" lengthAdjust="spacing">Electron</text>
<text x="175.69" y="124.00" font-size="12.0" textLength="69.83" lengthAdjust="spacing">temperature</text>
<text x="252.32" y="124.00" font-size="12.0" textLength="8.45" lengthAdjust="spacingAndGlyphs">=</text>
<text x="267.17" y="124.00" font-size="12.0" textLength="14.05" lengthAdjust="spacing">20</text>
<text x="288.74" y="124.00" font-size="12.0" textLength="19.48" lengthAdjust="spacing">keV</text>
<text x="122.88" y="137.70" font-size="12.0" textLength="43.98" lengthAdjust="spacing">Incident</text>
<text x="173.79" y="137.70" font-size="12.0" textLength="39.23" lengthAdjust="spacing">photon</text>
<text x="219.38" y="137.70" font-size="12.0" textLength="36.69" lengthAdjust="spacing">energy</text>
<text x="264.14" y="137.70" font-size="12.0" textLength="7.95" lengthAdjust="spacingAndGlyphs">=</text>
<text x="279.02" y="137.70" font-size="12.0" textLength="21.95" lengthAdjust="spacing">100</text>
<text x="305.98" y="137.70" font-size="12.0" textLength="20.33" lengthAdjust="spacing">keV</text>
<text x="162.68" y="154.75" font-size="12.0" textLength="16.78" lengthAdjust="spacing">1st</text>
<text x="185.86" y="154.75" font-size="12.0" textLength="46.47" lengthAdjust="spacing">moment</text>
<text x="161.74" y="165.65" font-size="12.0" textLength="20.39" lengthAdjust="spacing">2nd</text>
<text x="188.98" y="165.65" font-size="12.0" textLength="46.25" lengthAdjust="spacing">moment</text>
<text x="161.76" y="176.55" font-size="12.0" textLength="19.23" lengthAdjust="spacing">3rd</text>
<text x="187.03" y="176.55" font-size="12.0" textLength="47.05" lengthAdjust="spacing">moment</text>
<text x="161.90" y="187.45" font-size="12.0" textLength="18.42" lengthAdjust="spacing">4th</text>
<text x="186.89" y="187.45" font-size="12.0" textLength="46.60" lengthAdjust="spacing">moment</text>
<text x="161.63" y="198.35" font-size="12.0" textLength="18.70" lengthAdjust="spacing">5th</text>
<text x="186.89" y="198.35" font-size="12.0" textLength="46.60" lengthAdjust="spacing">moment</text>
</g>
<line x1="135.2" x2="155.6" y1="151.25" y2="151.25" stroke="#000000" stroke-width="1.6"/>
<line x1="135.2" x2="155.6" y1="162.15" y2="162.15" stroke="#ff0000" stroke-width="1.6"/>
<line x1="135.2" x2="155.6" y1="173.05" y2="173.05" stroke="#ff9a14" stroke-width="1.6"/>
<line x1="135.2" x2="155.6" y1="183.95" y2="183.95" stroke="#acac1c" stroke-width="1.6"/>
<line x1="135.2" x2="155.6" y1="194.85" y2="194.85" stroke="#1c86ff" stroke-width="1.6"/>
</svg>
</body></html>
